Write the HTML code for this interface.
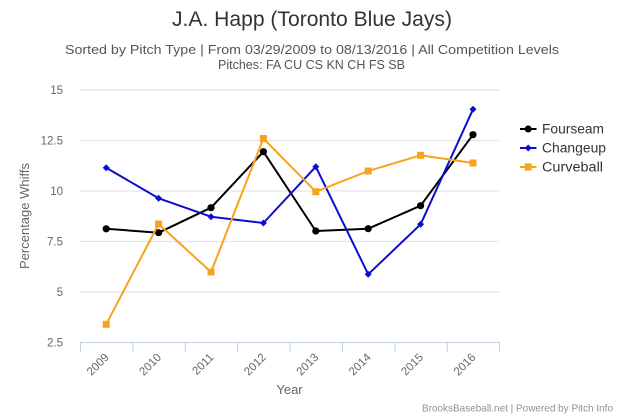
<!DOCTYPE html>
<html>
<head>
<meta charset="utf-8">
<style>
  html, body { margin: 0; padding: 0; background: #ffffff; }
  svg { display: block; }
  text { font-family: "Liberation Sans", "DejaVu Sans", sans-serif; }
</style>
</head>
<body>
<svg width="624" height="416" viewBox="0 0 624 416" xmlns="http://www.w3.org/2000/svg">
  <rect x="0" y="0" width="624" height="416" fill="#ffffff"/>

  <!-- Title -->
  <text x="312" y="26" text-anchor="middle" font-size="21" fill="#333333" textLength="280" lengthAdjust="spacingAndGlyphs">J.A. Happ (Toronto Blue Jays)</text>
  <text x="312" y="54" text-anchor="middle" font-size="13" fill="#555555" textLength="494" lengthAdjust="spacingAndGlyphs">Sorted by Pitch Type | From 03/29/2009 to 08/13/2016 | All Competition Levels</text>
  <text x="311.5" y="69" text-anchor="middle" font-size="13" fill="#555555" textLength="187" lengthAdjust="spacingAndGlyphs">Pitches: FA CU CS KN CH FS SB</text>

  <!-- Grid lines -->
  <g stroke="#e4e4e4" stroke-width="1.2">
    <line x1="80" y1="90" x2="499" y2="90"/>
    <line x1="80" y1="140.5" x2="499" y2="140.5"/>
    <line x1="80" y1="191" x2="499" y2="191"/>
    <line x1="80" y1="241.5" x2="499" y2="241.5"/>
    <line x1="80" y1="292" x2="499" y2="292"/>
  </g>

  <!-- X axis line and ticks -->
  <g stroke="#c0d0e0" stroke-width="1">
    <line x1="80" y1="342.5" x2="499.5" y2="342.5"/>
    <line x1="80.5" y1="342.5" x2="80.5" y2="352"/>
    <line x1="132.9" y1="342.5" x2="132.9" y2="352"/>
    <line x1="185.3" y1="342.5" x2="185.3" y2="352"/>
    <line x1="237.7" y1="342.5" x2="237.7" y2="352"/>
    <line x1="290.1" y1="342.5" x2="290.1" y2="352"/>
    <line x1="342.5" y1="342.5" x2="342.5" y2="352"/>
    <line x1="394.9" y1="342.5" x2="394.9" y2="352"/>
    <line x1="447.3" y1="342.5" x2="447.3" y2="352"/>
    <line x1="499.5" y1="342.5" x2="499.5" y2="352"/>
  </g>

  <!-- Y axis labels -->
  <g font-size="11.5" fill="#666666" text-anchor="end">
    <text x="63" y="94">15</text>
    <text x="63" y="144.5">12.5</text>
    <text x="63" y="195">10</text>
    <text x="63" y="245.5">7.5</text>
    <text x="63" y="296">5</text>
    <text x="63" y="346.5">2.5</text>
  </g>

  <!-- Y axis title -->
  <text x="0" y="0" transform="translate(29,216) rotate(-90)" text-anchor="middle" font-size="13" fill="#666666" textLength="106" lengthAdjust="spacingAndGlyphs">Percentage Whiffs</text>

  <!-- X axis labels -->
  <g font-size="11.5" fill="#666666" text-anchor="end">
    <text transform="translate(109.5,358) rotate(-45)">2009</text>
    <text transform="translate(161.9,358) rotate(-45)">2010</text>
    <text transform="translate(214.3,358) rotate(-45)">2011</text>
    <text transform="translate(266.7,358) rotate(-45)">2012</text>
    <text transform="translate(319.1,358) rotate(-45)">2013</text>
    <text transform="translate(371.5,358) rotate(-45)">2014</text>
    <text transform="translate(423.9,358) rotate(-45)">2015</text>
    <text transform="translate(476.3,358) rotate(-45)">2016</text>
  </g>

  <!-- X axis title -->
  <text x="289.5" y="394" text-anchor="middle" font-size="13" fill="#666666">Year</text>

  <!-- Fourseam -->
  <polyline fill="none" stroke="#000000" stroke-width="2" stroke-linejoin="round"
    points="106.2,228.8 158.6,232.7 211,207.7 263.4,151.7 315.8,231 368.2,228.7 420.6,205.7 473,134.7"/>
  <g fill="#000000">
    <circle cx="106.2" cy="228.8" r="3.6"/>
    <circle cx="158.6" cy="232.7" r="3.6"/>
    <circle cx="211" cy="207.7" r="3.6"/>
    <circle cx="263.4" cy="151.7" r="3.6"/>
    <circle cx="315.8" cy="231" r="3.6"/>
    <circle cx="368.2" cy="228.7" r="3.6"/>
    <circle cx="420.6" cy="205.7" r="3.6"/>
    <circle cx="473" cy="134.7" r="3.6"/>
  </g>

  <!-- Changeup -->
  <polyline fill="none" stroke="#0d0dd0" stroke-width="2" stroke-linejoin="round"
    points="106.2,167.7 158.6,198.3 211,216.7 263.4,223 315.8,166.7 368.2,274.3 420.6,224.3 473,109.3"/>
  <g fill="#0d0dd0">
    <path d="M106.2,164.2 L109.7,167.7 L106.2,171.2 L102.7,167.7 Z"/>
    <path d="M158.6,194.8 L162.1,198.3 L158.6,201.8 L155.1,198.3 Z"/>
    <path d="M211,213.2 L214.5,216.7 L211,220.2 L207.5,216.7 Z"/>
    <path d="M263.4,219.5 L266.9,223 L263.4,226.5 L259.9,223 Z"/>
    <path d="M315.8,163.2 L319.3,166.7 L315.8,170.2 L312.3,166.7 Z"/>
    <path d="M368.2,270.8 L371.7,274.3 L368.2,277.8 L364.7,274.3 Z"/>
    <path d="M420.6,220.8 L424.1,224.3 L420.6,227.8 L417.1,224.3 Z"/>
    <path d="M473,105.8 L476.5,109.3 L473,112.8 L469.5,109.3 Z"/>
  </g>

  <!-- Curveball -->
  <polyline fill="none" stroke="#f7a31c" stroke-width="2" stroke-linejoin="round"
    points="106.2,324.3 158.6,224 211,272 263.4,138.5 315.8,191.7 368.2,171 420.6,155.3 473,163"/>
  <g fill="#f7a31c">
    <rect x="102.7" y="320.8" width="7" height="7"/>
    <rect x="155.1" y="220.5" width="7" height="7"/>
    <rect x="207.5" y="268.5" width="7" height="7"/>
    <rect x="259.9" y="135" width="7" height="7"/>
    <rect x="312.3" y="188.2" width="7" height="7"/>
    <rect x="364.7" y="167.5" width="7" height="7"/>
    <rect x="417.1" y="151.8" width="7" height="7"/>
    <rect x="469.5" y="159.5" width="7" height="7"/>
  </g>

  <!-- Legend -->
  <g>
    <line x1="520" y1="129" x2="536.5" y2="129" stroke="#000000" stroke-width="2"/>
    <circle cx="528.2" cy="129" r="3.5" fill="#000000"/>
    <text x="542" y="133.5" font-size="13.5" fill="#333333" textLength="62" lengthAdjust="spacingAndGlyphs">Fourseam</text>

    <line x1="520" y1="148" x2="536.5" y2="148" stroke="#0d0dd0" stroke-width="2"/>
    <path d="M528.2,144.5 L531.7,148 L528.2,151.5 L524.7,148 Z" fill="#0d0dd0"/>
    <text x="542" y="152.5" font-size="13.5" fill="#333333" textLength="64" lengthAdjust="spacingAndGlyphs">Changeup</text>

    <line x1="520" y1="167" x2="536.5" y2="167" stroke="#f7a31c" stroke-width="2"/>
    <rect x="524.7" y="163.5" width="7" height="7" fill="#f7a31c"/>
    <text x="542" y="171.5" font-size="13.5" fill="#333333" textLength="61" lengthAdjust="spacingAndGlyphs">Curveball</text>
  </g>

  <!-- Credits -->
  <text x="613" y="411.5" text-anchor="end" font-size="10.5" fill="#909090" textLength="191" lengthAdjust="spacingAndGlyphs">BrooksBaseball.net | Powered by Pitch Info</text>
</svg>
</body>
</html>
